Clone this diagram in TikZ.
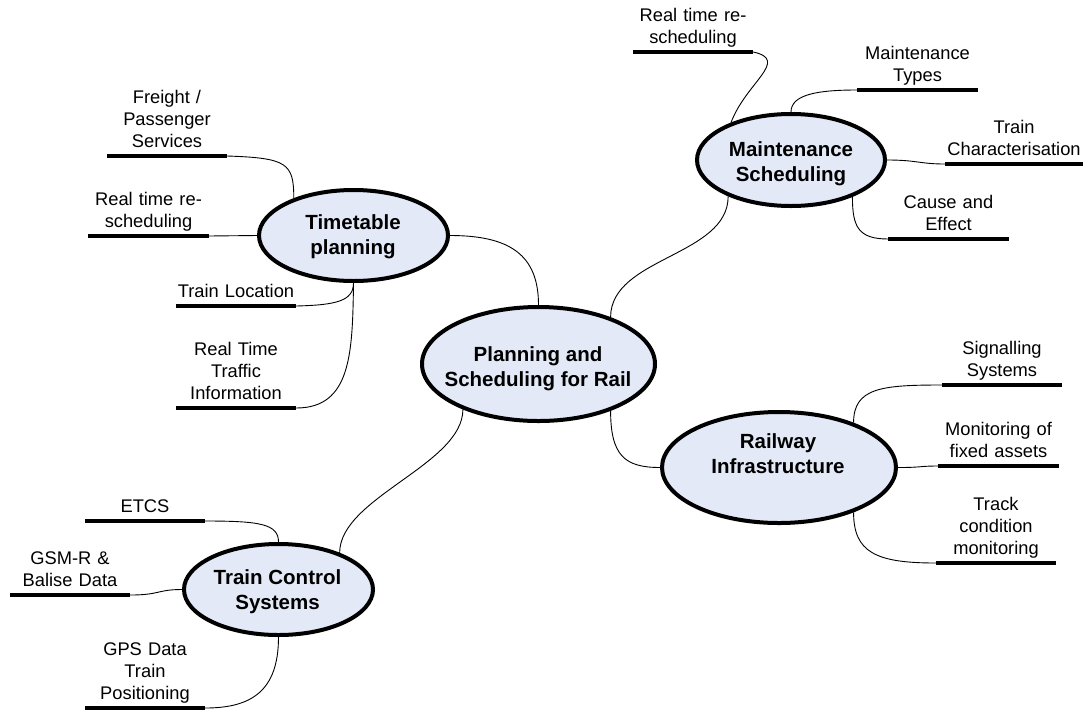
\documentclass[tikz,border=0pt]{standalone}
\usepackage{fontspec}
\setmainfont{Liberation Sans}
\usetikzlibrary{shapes.geometric}
\definecolor{hubfill}{RGB}{227,233,246}
\newcommand\dep{\rule[-8pt]{0pt}{8pt}}
\begin{document}
\begin{tikzpicture}[x=1pt,y=-1pt,
  hub/.style={ellipse, draw=black, line width=4pt, fill=hubfill, inner sep=0pt},
  hubtext/.style={font=\fontsize{20.5}{25}\selectfont\bfseries, align=center, inner sep=0pt},
  leaf/.style={font=\fontsize{18.3}{22}\selectfont, align=center, text width=120pt, inner sep=0pt, anchor=south},
  bar/.style={line width=4pt},
  link/.style={line width=0.9pt}]
\useasboundingbox[fill=white] (0,0) rectangle (1083,710);

% hubs
\node[hub, minimum width=233pt, minimum height=114pt] (c) at (538.5,364) {};
\node[hubtext] (ct) at (538,369) {Planning and\\Scheduling for Rail};
\node[hub, minimum width=189pt, minimum height=91pt] (t) at (353.5,235.5) {};
\node[hubtext] (tt) at (353,237) {Timetable\\planning};
\node[hub, minimum width=188pt, minimum height=92pt] (m) at (791,160) {};
\node[hubtext] (mt) at (791,164) {Maintenance\\Scheduling};
\node[hub, minimum width=234pt, minimum height=111pt] (r) at (779,467.5) {};
\node[hubtext] (rt) at (778,454) {Railway\\Infrastructure};
\node[hub, minimum width=189pt, minimum height=91pt] (tc) at (278.5,589.5) {};
\node[hubtext] (tct) at (277.5,591.5) {Train Control\\Systems};

% leaves
\node[leaf] (frt) at (167,156) {Freight /\\Passenger\\Services\dep};
\node[leaf] (lrt) at (148.5,236) {Real time re-\\scheduling\dep};
\node[leaf] (tloc) at (236,306) {Train Location\dep};
\node[leaf] (rtti) at (236,408) {Real Time\\Traffic\\Information\dep};
\node[leaf] (mrt) at (693,52) {Real time re-\\scheduling\dep};
\node[leaf] (mtyp) at (917.5,90) {Maintenance\\Types\dep};
\node[leaf, text width=138pt] (tch) at (1014,164) {Train\\Characterisation\dep};
\node[leaf] (cae) at (948.5,239) {Cause and\\Effect\dep};
\node[leaf] (sig) at (1002,385) {Signalling\\Systems\dep};
\node[leaf] (mfa) at (998.5,466) {Monitoring of\\fixed assets\dep};
\node[leaf] (tcm) at (996,563) {Track\\condition\\monitoring\dep};
\node[leaf] (etcs) at (145,521) {ETCS\dep};
\node[leaf] (gsm) at (70,595) {GSM-R \&\\Balise Data\dep};
\node[leaf] (gps) at (145,708) {GPS Data\\Train\\Positioning\dep};

\foreach \n in {frt,lrt,tloc,rtti,mrt,mtyp,tch,cae,sig,mfa,tcm,etcs,gsm,gps}
  \draw[bar] (\n.south west) -- (\n.south east);

% main connectors
\draw[link] (t.east) .. controls +(60,0) and +(0,-50) .. (c.north);
\draw[link] (c.33) .. controls +(0,-60) and +(0,60) .. (m.210);
\draw[link] (c.327) .. controls +(0,45) and +(-35,0) .. (r.west);
\draw[link] (c.211) .. controls +(0,55) and +(0,-55) .. (tc.31);

% timetable leaves
\draw[link] (frt.south east) .. controls +(60,2) and +(0,-35) .. (t.148);
\draw[link] (lrt.south east) -- (t.west);
\draw[link] (tloc.south east) .. controls +(40,-1) and +(0,18) .. (t.south);
\draw[link] (rtti.south east) .. controls +(55,0) and +(-1,70) .. (t.south);

% maintenance leaves
\draw[link] (mrt.south east) .. controls +(37,8) and +(15,-40) .. (m.148);
\draw[link] (mtyp.south west) .. controls +(-38,0) and +(0,-18) .. (m.north);
\draw[link] (m.east) .. controls +(30,0) and +(-25,0) .. (tch.south west);
\draw[link] (m.329) .. controls +(0,30) and +(-30,0) .. (cae.south west);

% railway leaves
\draw[link] (r.31) .. controls +(0,-35) and +(-60,0) .. (sig.south west);
\draw[link] (r.east) .. controls +(25,0) and +(-20,0) .. (mfa.south west);
\draw[link] (r.329) .. controls +(0,40) and +(-60,0) .. (tcm.south west);

% train control leaves
\draw[link] (etcs.south east) .. controls +(55,0) and +(0,-18) .. (tc.north);
\draw[link] (gsm.south east) .. controls +(30,0) and +(-25,0) .. (tc.west);
\draw[link] (tc.south) .. controls +(0,55) and +(45,0) .. (gps.south east);
\end{tikzpicture}
\end{document}
